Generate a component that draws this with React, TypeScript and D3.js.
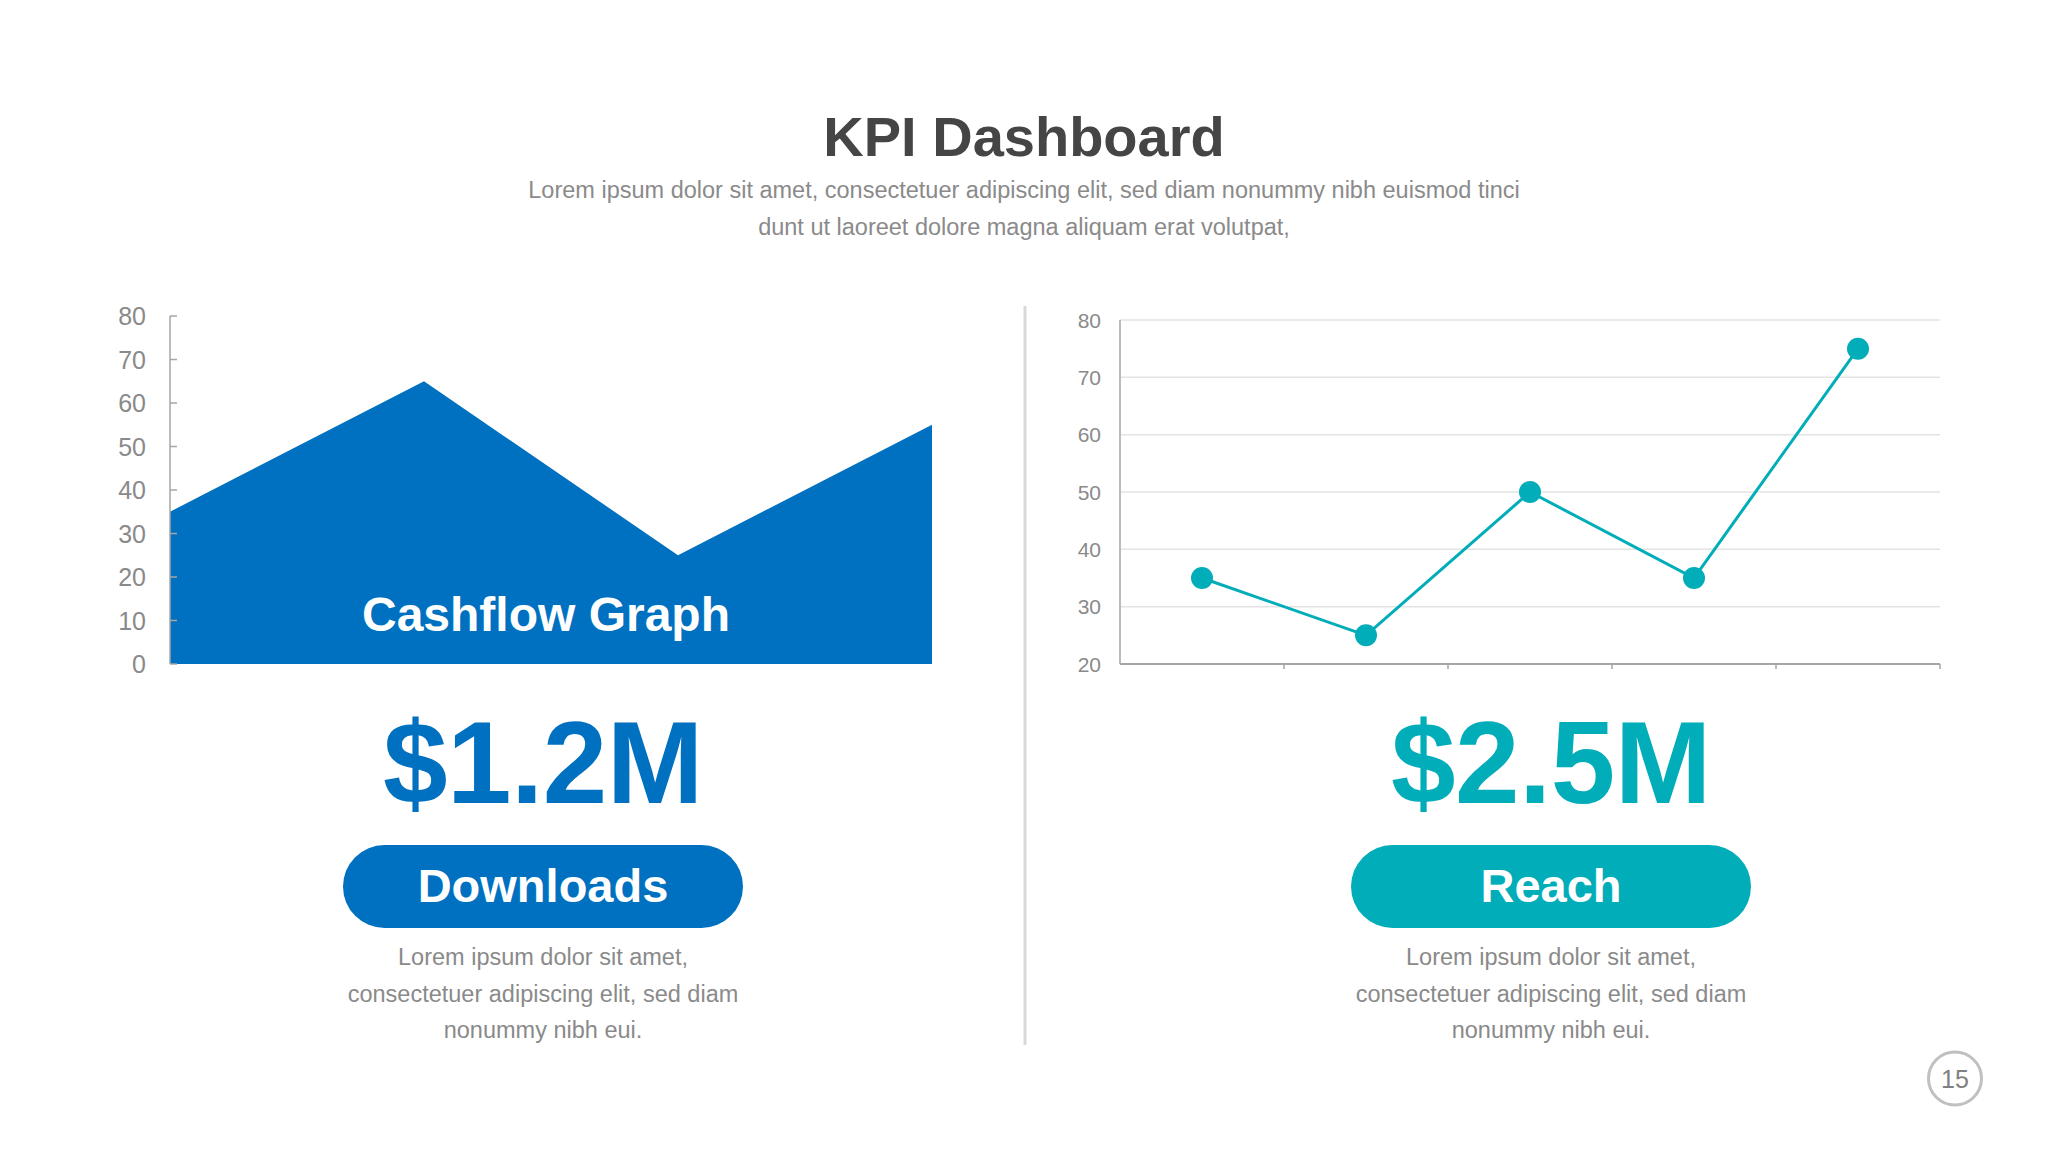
import React from "react";
import * as d3 from "d3";

const FONT = "'Liberation Sans', Arial, Helvetica, sans-serif";

// Left chart (area)
const areaCategories = ["Q1", "Q2", "Q3", "Q4"];
const areaValues = [35, 65, 25, 55];
const areaTicks = [0, 10, 20, 30, 40, 50, 60, 70, 80];

// Right chart (line)
const lineCategories = ["A", "B", "C", "D", "E"];
const lineValues = [35, 25, 50, 35, 75];
const lineTicks = [20, 30, 40, 50, 60, 70, 80];

const titleText = "KPI Dashboard";
const subtitleLines = [
  "Lorem ipsum dolor sit amet, consectetuer adipiscing elit, sed diam nonummy nibh euismod tinci",
  "dunt ut laoreet dolore magna aliquam erat volutpat,",
];
const kpiValues = ["$1.2M", "$2.5M"];
const kpiLabels = ["Downloads", "Reach"];
const bodyLines = [
  "Lorem ipsum dolor sit amet,",
  "consectetuer adipiscing elit, sed diam",
  "nonummy nibh eui.",
];
const pageNumber = "15";

const BLUE = "#0071C1";
const TEAL = "#00ADB9";
const GRAY_TEXT = "#8a8a8a";

export default function App() {
  // Left chart scales
  const ax = d3.scalePoint<string>().domain(areaCategories).range([170, 932]).padding(0);
  const ay = d3.scaleLinear().domain([0, 80]).range([664, 316]);
  const areaGen = d3
    .area<number>()
    .x((_, i) => ax(areaCategories[i]) as number)
    .y0(ay(0))
    .y1((d) => ay(d));

  // Right chart scales
  const lx = d3.scaleBand<string>().domain(lineCategories).range([1120, 1940]).padding(0);
  const ly = d3.scaleLinear().domain([20, 80]).range([664, 320]);
  const lineGen = d3
    .line<number>()
    .x((_, i) => (lx(lineCategories[i]) as number) + lx.bandwidth() / 2)
    .y((d) => ly(d));

  const leftCx = 543;
  const rightCx = 1551;

  return (
    <svg
      width={2048}
      height={1152}
      style={{ position: "absolute", left: 0, top: 0, background: "#fff" }}
      fontFamily={FONT}
    >
      <rect x={0} y={0} width={2048} height={1152} fill="#ffffff" />

      {/* Title */}
      <text x={1024} y={156} textAnchor="middle" fontSize={56} fontWeight="bold" fill="#454545">
        {titleText}
      </text>
      {subtitleLines.map((t, i) => (
        <text key={i} x={1024} y={198 + i * 37} textAnchor="middle" fontSize={23.5} fill={GRAY_TEXT}>
          {t}
        </text>
      ))}

      {/* Divider */}
      <line x1={1025} x2={1025} y1={306} y2={1045} stroke="#d9d9d9" strokeWidth={3} />

      {/* Left area chart */}
      <path d={areaGen(areaValues) || ""} fill={BLUE} />
      <line x1={170} x2={170} y1={ay(80)} y2={ay(0)} stroke="#a6a6a6" strokeWidth={1.5} />
      {areaTicks.map((t) => (
        <g key={t}>
          <line x1={170} x2={177} y1={ay(t)} y2={ay(t)} stroke="#a6a6a6" strokeWidth={1.5} />
          <text x={146} y={ay(t)} dy="0.36em" textAnchor="end" fontSize={25} fill={GRAY_TEXT}>
            {t}
          </text>
        </g>
      ))}
      <text x={546} y={631} textAnchor="middle" fontSize={48} fontWeight="bold" fill="#ffffff">
        Cashflow Graph
      </text>

      {/* Right line chart */}
      {lineTicks.map((t) => (
        <g key={t}>
          {t !== 20 && (
            <line x1={1120} x2={1940} y1={ly(t)} y2={ly(t)} stroke="#e3e3e3" strokeWidth={1.5} />
          )}
          <text x={1101} y={ly(t)} dy="0.36em" textAnchor="end" fontSize={21} fill={GRAY_TEXT}>
            {t}
          </text>
        </g>
      ))}
      <line x1={1120} x2={1120} y1={ly(80)} y2={ly(20)} stroke="#a6a6a6" strokeWidth={1.5} />
      <line x1={1120} x2={1940} y1={ly(20)} y2={ly(20)} stroke="#a6a6a6" strokeWidth={2} />
      {lineCategories.map((c) => (
        <line
          key={c}
          x1={(lx(c) as number) + lx.bandwidth()}
          x2={(lx(c) as number) + lx.bandwidth()}
          y1={ly(20)}
          y2={ly(20) + 5}
          stroke="#a6a6a6"
          strokeWidth={1.5}
        />
      ))}
      <path d={lineGen(lineValues) || ""} fill="none" stroke={TEAL} strokeWidth={3} />
      {lineValues.map((v, i) => (
        <circle
          key={i}
          cx={(lx(lineCategories[i]) as number) + lx.bandwidth() / 2}
          cy={ly(v)}
          r={11}
          fill={TEAL}
        />
      ))}

      {/* KPI blocks */}
      {[leftCx, rightCx].map((cx, i) => {
        const color = i === 0 ? BLUE : TEAL;
        return (
          <g key={i}>
            <text
              x={cx}
              y={803}
              textAnchor="middle"
              fontSize={116}
              fontWeight="bold"
              fill={color}
              letterSpacing={-0.5}
            >
              {kpiValues[i]}
            </text>
            <rect x={cx - 200} y={845} width={400} height={83} rx={41.5} ry={41.5} fill={color} />
            <text x={cx} y={902} textAnchor="middle" fontSize={47} fontWeight="bold" fill="#ffffff">
              {kpiLabels[i]}
            </text>
            {bodyLines.map((t, j) => (
              <text key={j} x={cx} y={965 + j * 36.7} textAnchor="middle" fontSize={23.5} fill={GRAY_TEXT}>
                {t}
              </text>
            ))}
          </g>
        );
      })}

      {/* Page number */}
      <circle cx={1955} cy={1078.5} r={26.5} fill="none" stroke="#c0c0c0" strokeWidth={3} />
      <text x={1955} y={1078.5} dy="0.36em" textAnchor="middle" fontSize={25} fill="#808080">
        {pageNumber}
      </text>
    </svg>
  );
}
